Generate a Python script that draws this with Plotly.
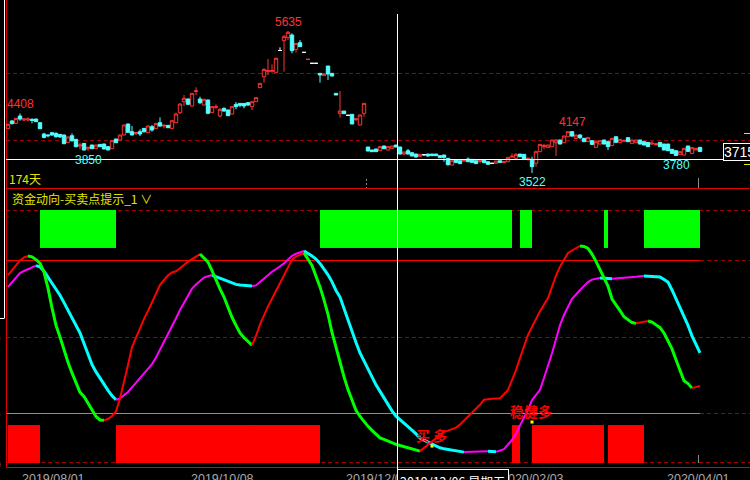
import plotly.graph_objects as go

W, H = 750, 480

# ---------------- data ----------------
tick_text = ["2019/08/01", "2019/10/08", "2019/12/02", "2020/02/03", "2020/04/01"]
tick_pos = [11.4, 53.5, 92.25, 131.0, 172.5]
cursor_date = "2019/12/06 星期五"
cursor_price = "3715"
day_count_label = "174天"
panel_title = "资金动向-买卖点提示_1 ∨"

open_ = [4186,4296,4261,4370,4310,4310,4320,4325,4271,4102,
         4087,4122,4112,4097,4087,3978,4077,4023,3924,3963,
         3884,3938,3889,3948,3953,3914,3884,4028,4013,4087,
         4251,4137,4112,4137,4186,4122,4211,4186,4271,4221,
         4231,4186,4271,4420,4583,4623,4519,4735,4623,4534,
         4608,4424,4499,4370,4484,4459,4400,4544,4558,4558,
         4568,4509,4583,4792,4955,5030,5035,5020,5345,5491,
         5540,5575,5362,5461,5317,5210,5154,5154,5005,4970,
         5114,5005,4707,4405,4444,4380,4395,4315,4236,4410,
         3909,3864,3879,3854,3924,3864,3889,3938,3909,3804,
         3854,3824,3804,3770,3795,3804,3804,3804,3780,3790,
         3740,3641,3715,3705,3700,3730,3725,3705,3695,3715,
         3690,3666,3666,3705,3676,3690,3760,3740,3804,3800,
         3730,3725,3666,3839,3914,3899,3914,3973,4013,3973,
         4062,4137,4038,4087,4038,3990,4003,3904,3953,4013,
         3988,3929,4062,3973,3995,4048,3963,3973,4013,3988,
         3978,3955,3945,3978,3953,3953,3874,3854,3800,3790,
         3924,3814,3864,3904]
high = [4256,4310,4345,4408,4340,4350,4335,4330,4276,4122,
        4102,4127,4127,4102,4092,4062,4112,4028,3973,3968,
        3914,3943,3943,3950,3958,3920,4008,4030,4092,4241,
        4256,4221,4132,4172,4190,4231,4236,4266,4350,4251,
        4236,4305,4420,4558,4682,4628,4712,4797,4658,4628,
        4613,4514,4544,4484,4499,4464,4514,4578,4563,4563,
        4573,4590,4650,4860,5079,5218,5139,5238,5392,5575,
        5635,5600,5455,5501,5320,5216,5157,5157,5005,4998,
        5114,5005,4707,4742,4444,4383,4400,4345,4390,4560,
        3910,3866,3880,3916,3926,3916,3926,3940,3912,3840,
        3879,3826,3806,3802,3804,3806,3806,3806,3782,3792,
        3742,3707,3720,3707,3725,3755,3727,3707,3725,3717,
        3692,3668,3702,3707,3692,3757,3814,3814,3806,3802,
        3755,3765,3854,3950,3953,3940,4015,4023,4015,4074,
        4139,4147,4089,4102,4040,4054,4013,3990,4005,4015,
        4003,4040,4064,4025,4023,4050,4015,4015,4015,3990,
        3980,3998,3973,3980,3955,3955,3876,3856,3841,3891,
        3926,3901,3891,3906]
low = [4176,4246,4251,4300,4296,4286,4261,4280,4176,4038,
       4052,4077,4048,4048,3953,3973,3988,3904,3874,3859,
       3850,3879,3884,3910,3874,3860,3879,3968,4008,4082,
       4122,4082,4087,4072,4122,4117,4137,4181,4211,4186,
       4191,4181,4266,4400,4519,4540,4514,4682,4548,4529,
       4395,4420,4474,4350,4434,4370,4395,4469,4499,4484,
       4519,4459,4578,4787,4866,4980,5015,5015,5342,5030,
       5501,5302,5312,5400,5314,5208,5152,5152,4866,4968,
       4906,4960,4682,4345,4405,4377,4251,4300,4231,4360,
       3845,3836,3837,3850,3884,3862,3887,3907,3800,3790,
       3802,3773,3750,3768,3775,3765,3778,3778,3748,3690,
       3631,3639,3666,3656,3690,3688,3678,3656,3666,3674,
       3646,3664,3664,3678,3674,3688,3755,3738,3763,3728,
       3705,3522,3616,3837,3874,3897,3912,3775,3951,3971,
       4060,4062,4036,4023,3986,3988,3938,3902,3951,3951,
       3864,3927,3976,3971,3988,3986,3961,3971,3951,3936,
       3912,3938,3924,3912,3862,3852,3812,3780,3798,3788,
       3834,3812,3862,3839]
close = [4246,4256,4335,4325,4325,4325,4305,4286,4181,4052,
         4077,4087,4062,4058,3958,4058,4003,3914,3938,3864,
         3904,3884,3938,3914,3879,3864,4003,3973,4087,4236,
         4127,4087,4122,4102,4137,4221,4162,4261,4221,4231,
         4196,4300,4400,4548,4633,4544,4707,4745,4568,4618,
         4410,4509,4509,4469,4444,4375,4509,4509,4529,4519,
         4534,4583,4643,4856,5064,5045,5045,5228,5345,5550,
         5615,5342,5451,5402,5317,5214,5154,5154,4980,4995,
         4995,4965,4682,4444,4405,4380,4251,4325,4385,4558,
         3849,3839,3839,3914,3884,3914,3924,3909,3804,3834,
         3804,3775,3760,3800,3795,3775,3780,3780,3750,3755,
         3646,3705,3680,3661,3710,3690,3680,3661,3705,3676,
         3651,3666,3700,3680,3690,3755,3770,3800,3765,3730,
         3740,3616,3839,3948,3929,3938,4013,4013,3953,4072,
         4137,4072,4087,4048,3988,4052,3948,3988,4003,3953,
         3914,4038,3978,4023,4003,3988,4013,4013,3953,3938,
         3914,3965,3955,3914,3864,3854,3814,3782,3839,3889,
         3844,3899,3889,3841]

# indicator: fast line (red rising / green falling), slow line (magenta rising / cyan falling)
fast_line = [74.3,76.3,78.3,80.1,81.3,81.8,81.5,80.4,79.0,75.4,
             69.1,61.3,54.4,49.8,44.6,39.8,35.6,31.9,27.9,26.3,
             23.5,20.9,18.4,17.0,16.9,17.4,18.6,20.4,25.5,31.7,
             38.7,45.8,49.8,53.8,57.0,60.1,63.2,66.9,70.4,72.3,
             74.2,75.3,75.8,77.0,78.4,79.6,80.6,81.6,82.6,81.0,
             79.4,76.0,72.0,68.8,65.6,61.4,57.6,54.4,51.4,49.5,
             48.0,46.6,50.2,54.8,58.7,61.9,64.9,68.0,71.2,74.4,
             77.4,80.4,81.6,82.4,83.0,80.8,78.1,73.8,69.6,64.5,
             58.8,51.6,45.4,39.5,34.1,29.0,24.9,20.8,18.4,16.4,
             14.5,12.9,11.4,9.9,9.3,8.6,8.0,7.4,6.9,6.5,
             6.0,5.6,5.1,4.7,6.0,7.3,8.6,9.9,11.3,12.3,
             12.8,13.4,14.0,15.2,16.7,18.2,19.7,21.3,23.0,25.0,
             25.3,25.4,25.5,25.6,27.2,28.9,32.8,36.7,41.5,46.0,
             50.6,53.8,57.0,60.0,62.6,65.2,69.6,74.1,77.6,80.3,
             83.0,84.0,85.0,85.8,85.6,84.8,82.6,79.7,76.3,73.4,
             69.9,64.8,62.7,60.2,57.8,56.6,55.5,55.2,55.5,55.8,
             56.1,55.7,54.6,53.5,51.4,48.4,45.1,40.8,36.6,32.5,
             31.4,29.6,29.9,30.4]
slow_line = [69.6,71.4,73.3,75.1,75.9,76.7,77.4,78.0,77.5,75.8,
             73.5,71.2,69.0,66.3,63.4,60.5,57.5,54.4,51.4,47.2,
             43.1,38.9,36.0,33.5,31.1,28.7,26.6,25.0,25.5,26.8,
             28.1,29.9,31.8,33.6,35.4,37.3,39.1,41.7,44.7,47.6,
             50.6,53.9,57.2,60.5,63.3,66.1,68.9,70.6,72.0,73.3,
             73.8,74.3,73.7,73.1,72.4,71.7,71.0,70.6,70.4,70.2,
             70.1,70.0,70.2,71.5,72.9,74.4,75.6,76.6,77.6,78.9,
             80.4,81.9,82.7,83.4,83.8,82.9,81.8,80.6,78.9,76.6,
             74.4,71.6,68.2,65.6,60.9,56.2,51.9,47.6,43.5,40.3,
             37.0,33.6,30.9,28.3,25.7,22.9,20.6,18.5,17.2,15.8,
             14.5,13.0,11.5,9.9,9.0,8.2,7.4,6.7,6.0,5.6,
             5.3,5.0,4.7,4.5,4.3,4.35,4.4,4.45,4.5,4.55,
             4.6,4.5,4.4,4.8,5.5,7.3,9.1,11.7,14.8,17.5,
             21.1,24.9,26.9,28.9,33.6,38.3,43.4,48.9,54.5,58.5,
             62.0,64.9,66.6,68.4,70.0,71.5,72.5,72.8,73.1,73.0,
             72.9,72.8,72.9,73.1,73.3,73.4,73.5,73.6,73.8,73.9,
             73.8,73.7,73.6,73.5,72.5,71.5,68.4,64.9,61.7,58.1,
             54.4,50.2,46.9,43.5]

# buy/sell state per bar: (state, first bar, bar after last)
signal_runs = [("R", 0, 8), ("G", 8, 27), ("R", 27, 78), ("G", 78, 126),
               ("R", 126, 128), ("G", 128, 131), ("R", 131, 149),
               ("G", 149, 150), ("R", 150, 159), ("G", 159, 173)]
green_band = (85, 100)
red_band = (0, 15)

# marked extremes on the price panel: (bar, kind)
extremes = [(3, "high"), (20, "low"), (70, "high"), (131, "low"), (141, "high"), (167, "low")]

# buy signal points in the indicator panel
buy_x = [106, 131]
buy_v = [6.7, 16.2]
buy_text = ["买 多", "稳健多"]

# ---------------- styling ----------------
UP = "#ff3232"
DOWN = "#54ffff"
DRED = "#a00000"
YEL = "#e6e600"
GRAY = "#a8a8a8"
AXRED = "#e00000"


def xp(px):
    return px / W


def yp(py):
    return 1 - py / H


fig = go.Figure()

# signal bands
for state, color, band in (("G", "#00ff00", green_band), ("R", "#ff0000", red_band)):
    xs = [i for (s, a, b) in signal_runs if s == state for i in range(a, b)]
    fig.add_trace(go.Bar(x=xs, y=[band[1] - band[0]] * len(xs), base=band[0],
                         width=1, offset=0, marker=dict(color=color, line=dict(width=0)),
                         xaxis="x", yaxis="y2", hoverinfo="skip"))

# candles
n = len(close)
groups = [
    ([i for i in range(n) if close[i] > open_[i]], UP, "#000000"),
    ([i for i in range(n) if close[i] < open_[i]], DOWN, DOWN),
    ([i for i in range(n) if close[i] == open_[i]], "#ffffff", "#ffffff"),
]
for idx, lc, fc in groups:
    fig.add_trace(go.Candlestick(
        x=idx,
        open=[open_[i] for i in idx], high=[high[i] for i in idx],
        low=[low[i] for i in idx], close=[close[i] for i in idx],
        increasing=dict(line=dict(color=lc, width=1), fillcolor=fc),
        decreasing=dict(line=dict(color=lc, width=1), fillcolor=fc),
        whiskerwidth=0, xaxis="x", yaxis="y", hoverinfo="skip"))


def add_colored_line(vals, up_color, down_color, up_w, down_w):
    runs = []
    cur, start = None, 0
    for k in range(len(vals) - 1):
        c = "up" if vals[k + 1] > vals[k] else "down"
        if c != cur:
            if cur is not None:
                runs.append((cur, start, k))
            cur, start = c, k
    runs.append((cur, start, len(vals) - 1))
    for c, a, b in runs:
        fig.add_trace(go.Scatter(
            x=list(range(a, b + 1)), y=vals[a:b + 1], mode="lines",
            line=dict(color=up_color if c == "up" else down_color,
                      width=up_w if c == "up" else down_w),
            xaxis="x", yaxis="y2", hoverinfo="skip"))


add_colored_line(slow_line, "#ff00ff", "#00ffff", 2, 3)
add_colored_line(fast_line, "#ff0000", "#00ff00", 2, 3)

fig.add_trace(go.Scatter(x=buy_x, y=buy_v, mode="markers",
                         marker=dict(color="#ffff00", size=3, symbol="square"),
                         xaxis="x", yaxis="y2", hoverinfo="skip"))

# ---------------- shapes ----------------
shapes = []


def hline(py, x0, x1, color, dash="solid", width=1, layer="below"):
    shapes.append(dict(type="line", xref="paper", yref="paper", x0=xp(x0), x1=xp(x1),
                       y0=yp(py), y1=yp(py), line=dict(color=color, width=width, dash=dash),
                       layer=layer))


def vline(px, y0, y1, color, dash="solid", width=1, layer="below"):
    shapes.append(dict(type="line", xref="paper", yref="paper", x0=xp(px), x1=xp(px),
                       y0=yp(y0), y1=yp(y1), line=dict(color=color, width=width, dash=dash),
                       layer=layer))


D = "4px,3px"
# price panel grid
hline(73.5, 6, 750, DRED, D)
hline(140.5, 6, 750, DRED, D)
# indicator grid
hline(210.5, 6, 750, DRED, D)
hline(260.5, 6, 700, "#ff0000")
hline(260.5, 700, 750, DRED, D)
hline(337.5, 6, 750, DRED, D)
hline(413.5, 6, 700, "#00ee00")
hline(413.5, 700, 750, DRED, D)
hline(462.5, 6, 750, DRED, D)
# frame
hline(188.5, 6, 750, AXRED)
hline(467.5, 6, 750, AXRED)
vline(6.5, 0, 468, AXRED)
# left white box edge
vline(4.5, -2, 318, "#ffffff")
hline(318.5, -5, 4.5, "#ffffff")
# month markers
vline(366.5, 179, 188, "#888888", "2px,2px")
vline(698.5, 178, 188, "#888888")
vline(698.5, 455, 463, "#888888")
# right yellow ticks
hline(133.5, 744, 750, YEL)
hline(164.5, 744, 750, YEL)
# crosshair
vline(397.5, 14, 469, "#ffffff", layer="above")
hline(159.5, 6, 723, "#ffffff", layer="above")

# ---------------- annotations ----------------
ann = []
NUMF = "Liberation Sans, Arial, sans-serif"
CJKF = "Noto Sans CJK SC, sans-serif"

for i, kind in extremes:
    if kind == "high":
        ann.append(dict(x=i, y=high[i], xref="x", yref="y", text=str(high[i]), showarrow=False,
                        xanchor="center", yanchor="bottom", font=dict(color=UP, size=12, family=NUMF)))
    else:
        ann.append(dict(x=i, y=low[i], xref="x", yref="y", text=str(low[i]), showarrow=False,
                        xanchor="center", yanchor="top", font=dict(color=DOWN, size=12, family=NUMF)))

for t, p in zip(tick_text, tick_pos):
    ann.append(dict(x=p, y=yp(470), xref="x", yref="paper", text=t, showarrow=False,
                    xanchor="center", yanchor="top", font=dict(color=GRAY, size=12.5, family=NUMF)))

for x, v, t in zip(buy_x, buy_v, buy_text):
    ann.append(dict(x=x, y=v, xref="x", yref="y2", text="<b>" + t + "</b>", showarrow=False,
                    xanchor="center", yanchor="middle", yshift=11, xshift=-1,
                    font=dict(color="#ff0000", size=14, family=CJKF)))

ann.append(dict(x=xp(7), y=yp(178), xref="paper", yref="paper", text=day_count_label,
                showarrow=False, xanchor="left", yanchor="middle",
                font=dict(color=YEL, size=12, family=CJKF)))
ann.append(dict(x=xp(10), y=yp(198), xref="paper", yref="paper", text=panel_title,
                showarrow=False, xanchor="left", yanchor="middle",
                font=dict(color=YEL, size=12, family=CJKF)))
# clipped left-axis labels
for t, py in (("日", 10), ("50", 337), ("20", 413), ("0", 463)):
    ann.append(dict(x=xp(3), y=yp(py), xref="paper", yref="paper", text=t, showarrow=False,
                    xanchor="right", yanchor="middle",
                    font=dict(color="#d0d0d0", size=12, family=CJKF)))
# cursor boxes
ann.append(dict(x=xp(397), y=yp(469), xref="paper", yref="paper", text=cursor_date,
                showarrow=False, xanchor="left", yanchor="top", bgcolor="#000000",
                bordercolor="#ffffff", borderwidth=1, borderpad=2,
                font=dict(color="#ffffff", size=12.5, family=CJKF)))
ann.append(dict(x=xp(723), y=yp(143), xref="paper", yref="paper", text=cursor_price,
                showarrow=False, xanchor="left", yanchor="top", bgcolor="#000000",
                bordercolor="#ffffff", borderwidth=1, borderpad=0,
                font=dict(color="#ffffff", size=14, family=NUMF)))

fig.update_layout(
    width=W, height=H, margin=dict(l=0, r=0, t=0, b=0),
    paper_bgcolor="#000000", plot_bgcolor="#000000",
    showlegend=False, hovermode=False, barmode="overlay",
    boxgap=0.1, boxgroupgap=0.05,
    xaxis=dict(range=[-2, 185.5], visible=False, rangeslider=dict(visible=False), fixedrange=True),
    yaxis=dict(domain=[1 - 188 / H, 1], range=[3299, 6096], visible=False, fixedrange=True),
    yaxis2=dict(domain=[12 / H, 1 - 188 / H], range=[-1.976, 108.70], visible=False,
                anchor="x", fixedrange=True),
    shapes=shapes, annotations=ann,
)

fig.write_html("out.html", config={"displayModeBar": False},
               post_script="document.body.style.margin='0px';document.body.style.background='#000';")
